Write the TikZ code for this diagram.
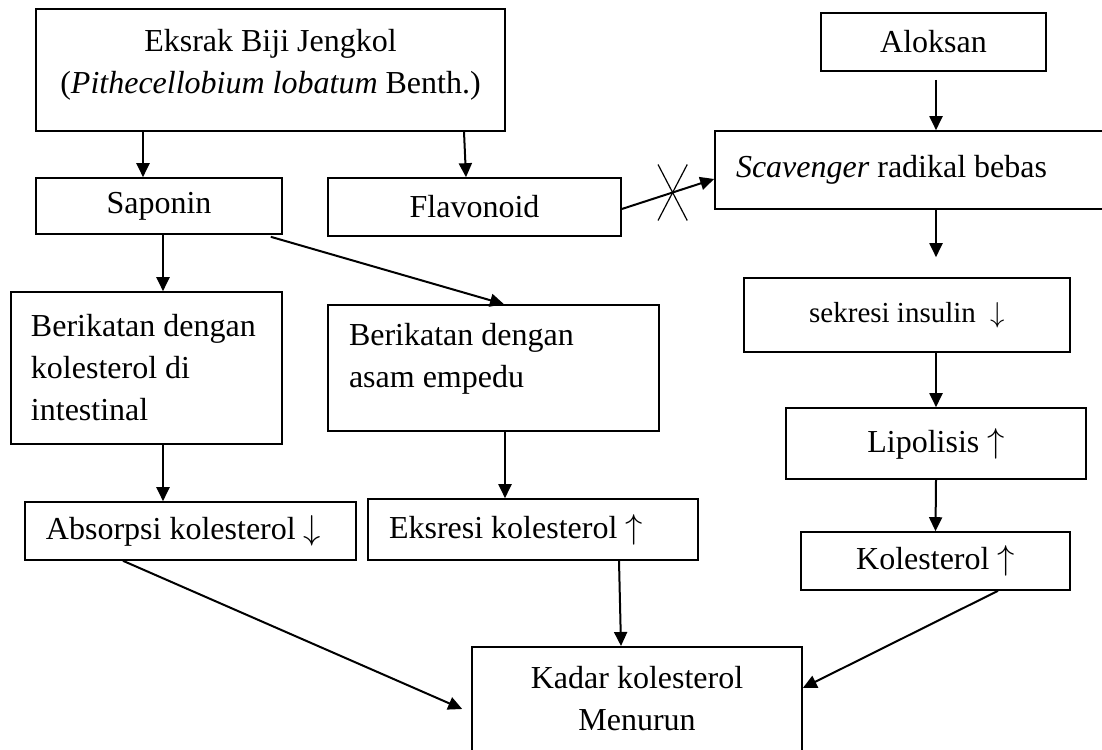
\documentclass[tikz,border=0pt]{standalone}
\usepackage{fontspec}
\setmainfont{Liberation Serif}
\usetikzlibrary{arrows.meta}
\tikzset{
  box/.style={draw, line width=0.8pt, inner sep=0pt, align=center},
  boxl/.style={draw, line width=0.8pt, inner xsep=10.5pt, inner ysep=0pt, align=flush left},
  arr/.style={-{Triangle[length=7pt,width=6.5pt]}, line width=1pt},
}

\begin{document}
\begin{tikzpicture}[x=0.5pt, y=-0.5pt, every node/.style={font=\fontsize{16}{21}\selectfont}]
    \useasboundingbox (0,0) rectangle (1102,749);

    % left column
    \node[box, minimum width=234.5pt, minimum height=61pt] (ekstrak) at (270.5,70)
      {Eksrak Biji Jengkol\\(\textit{Pithecellobium lobatum} Benth.)\\[-12pt]\mbox{}};
    \node[box, minimum width=123pt, minimum height=28pt] (saponin) at (159,206) {Saponin};
    \node[box, minimum width=146.5pt, minimum height=29pt] (flavo) at (474.5,207) {Flavonoid};
    \node[boxl, text width=115.5pt, inner xsep=10pt, minimum height=76pt] (ikatkol) at (146.5,368)
      {Berikatan dengan\\kolesterol di\\intestinal};
    \node[boxl, text width=144.5pt, minimum height=63pt] (ikatasam) at (493.5,368)
      {Berikatan dengan\\asam empedu\\[-8pt]\mbox{}};
    \node[boxl, text width=144.5pt, minimum height=29pt] (absorb) at (190.5,531)
      {Absorpsi kolesterol $\downarrow$};
    \node[boxl, text width=144pt, minimum height=30.5pt] (ekskresi) at (533,529.5)
      {Eksresi kolesterol $\uparrow$};
    \node[box, anchor=north, minimum width=165pt, inner ysep=9.6pt] (kadar) at (637,646)
      {Kadar kolesterol\\Menurun\\\rule{0pt}{30pt}};

    % right column
    \node[box, minimum width=112.5pt, minimum height=29pt] (aloksan) at (933.5,42) {Aloksan};
    \node[boxl, text width=176.5pt, minimum height=39pt] (scav) at (912.5,170)
      {\textit{Scavenger} radikal bebas};
    \node[box, minimum width=163pt, minimum height=37pt, font=\fontsize{14.5}{18}\selectfont] (sekresi) at (907,315)
      {sekresi insulin\ \ $\downarrow$};
    \node[box, minimum width=150pt, minimum height=35.5pt] (lipo) at (936,443.5) {Lipolisis $\uparrow$};
    \node[box, minimum width=134.5pt, minimum height=29pt] (kolest) at (935.5,561) {Kolesterol $\uparrow$};

    % arrows
    \draw[arr] ([xshift=-63.75pt]ekstrak.south) -- ([xshift=-8pt]saponin.north);
    \draw[arr] ([xshift=96.75pt]ekstrak.south) -- ([xshift=-4.25pt]flavo.north);
    \draw[arr] ([xshift=2pt]saponin.south) -- ([xshift=8.25pt]ikatkol.north);
    \draw[arr] ([xshift=-6pt,yshift=-1pt]saponin.south east) -- ([xshift=5.25pt]ikatasam.north);
    \draw[arr] ([xshift=8.25pt]ikatkol.south) -- ([xshift=-13.75pt]absorb.north);
    \draw[arr] ([xshift=5.75pt]ikatasam.south) -- ([xshift=-14pt]ekskresi.north);
    \draw[arr] ([xshift=-33.75pt]absorb.south) -- ([xshift=-4.5pt,yshift=-31.5pt]kadar.north west);
    \draw[arr] ([xshift=43pt]ekskresi.south) -- ([xshift=-8pt]kadar.north);
    \draw[arr] ([xshift=1.25pt,yshift=-4pt]aloksan.south) -- ([xshift=11.75pt]scav.north);
    \draw[arr] ([yshift=-1pt]flavo.east) -- coordinate[pos=0.55] (blok) ([yshift=-4.5pt]scav.west);
    \draw[arr] ([xshift=11.75pt]scav.south) -- ([xshift=14.5pt,yshift=10pt]sekresi.north);
    \draw[arr] ([xshift=14.5pt]sekresi.south) -- (lipo.north);
    \draw[arr] (lipo.south) -- (kolest.north);
    \draw[arr] ([xshift=31.25pt]kolest.south) -- ([yshift=-21pt]kadar.north east);

    % blocked
    \draw[line width=0.6pt] ([shift={(-7.3pt,-14pt)}]blok) -- ([shift={(7.3pt,14pt)}]blok);
    \draw[line width=0.6pt] ([shift={(-7.3pt,14pt)}]blok) -- ([shift={(7.3pt,-14pt)}]blok);
\end{tikzpicture}
\end{document}
